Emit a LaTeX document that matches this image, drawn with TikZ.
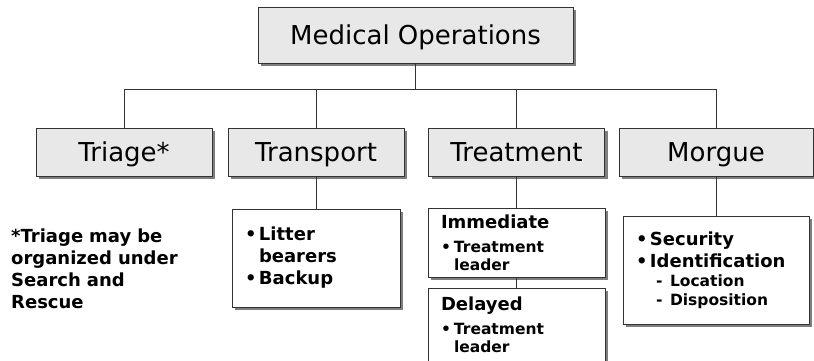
\documentclass[tikz,border=0pt]{standalone}
\usepackage{fontspec}
\setmainfont{DejaVu Sans}
\usetikzlibrary{shadows}
\setlength\parindent{0pt}
\definecolor{boxfill}{HTML}{E8E8E8}
\definecolor{edgecol}{HTML}{333333}
\definecolor{shadecol}{HTML}{7F7F7F}
\newcommand\headfont{\fontsize{26}{30}\selectfont}
\newcommand\mainb{\bfseries\fontsize{18}{22}\selectfont}
\newcommand\smallb[1]{\bfseries\fontsize{15.5}{#1}\selectfont}
\newcommand\bulM{\makebox[14pt][l]{•}}
\newcommand\bulS{\makebox[13pt][l]{•}}
\begin{document}
\begin{tikzpicture}[x=1pt,y=-1pt,
  shadowed/.style={drop shadow={shadow xshift=3pt,shadow yshift=-3pt,fill=shadecol,opacity=1}},
  headbox/.style={shadowed,draw=edgecol,line width=0.8pt,fill=boxfill,font=\headfont,inner sep=0pt,minimum height=48pt,text height=19pt,text depth=0pt},
  subbox/.style={shadowed,draw=edgecol,line width=0.8pt,fill=white,align=left,inner xsep=13pt,inner ysep=0pt},
  link/.style={draw=edgecol,line width=0.8pt}]
\useasboundingbox[fill=white] (0,0) rectangle (814,360);
% top level
\node[headbox,minimum width=315pt,minimum height=56pt] (med) at (415.5,35) {Medical Operations};
% second level
\node[headbox,minimum width=176pt] (triage) at (124,152) {Triage*};
\node[headbox,minimum width=176pt] (transport) at (316,152) {Transport};
\node[headbox,minimum width=176pt] (treatment) at (516.5,152) {Treatment};
\node[headbox,minimum width=194pt] (morgue) at (716,152) {Morgue};
% bus
\coordinate (busL) at (124,89);
\coordinate (busR) at (716,89);
\draw[link] (busL) -- (busR);
\draw[link] (med.south) -- (med.south |- busL);
\foreach \n in {triage,transport,treatment,morgue}
  \draw[link] (\n.north) -- (\n.north |- busL);
% sub boxes
\node[subbox,font=\mainb,text width=142pt,minimum height=98pt] (tsub) at (316,258)
  {\bulM Litter\par\hspace*{14pt}bearers\par\bulM Backup\par};
\node[subbox,text width=151pt,minimum height=69pt] (imm) at (516.5,242.5)
  {{\mainb Immediate\par}\vspace{6pt}{\smallb{18}\bulS Treatment\par\hspace*{13pt}leader\par}};
\node[subbox,text width=151pt,minimum height=73pt] (del) at (516.5,324.5)
  {{\mainb Delayed\par}\vspace{6pt}{\smallb{18}\bulS Treatment\par\hspace*{13pt}leader\par}};
\node[subbox,text width=160pt,minimum height=108pt] (msub) at (716,270)
  {{\mainb\bulM Security\par\bulM Identification\par}{\smallb{19}\hspace*{20pt}\makebox[14pt][l]{-}Location\par\hspace*{20pt}\makebox[14pt][l]{-}Disposition\par}};
% footnote
\node[anchor=north west,inner sep=0pt,text width=190pt,align=left,font=\mainb] (note) at (11,229)
  {*Triage may be\par organized under\par Search and\par Rescue\par};
% connectors
\draw[link] (transport.south) -- (tsub.north);
\draw[link] (treatment.south) -- (imm.north);
\draw[link] (imm.south) -- (del.north);
\draw[link] (morgue.south) -- (msub.north);
\end{tikzpicture}
\end{document}
